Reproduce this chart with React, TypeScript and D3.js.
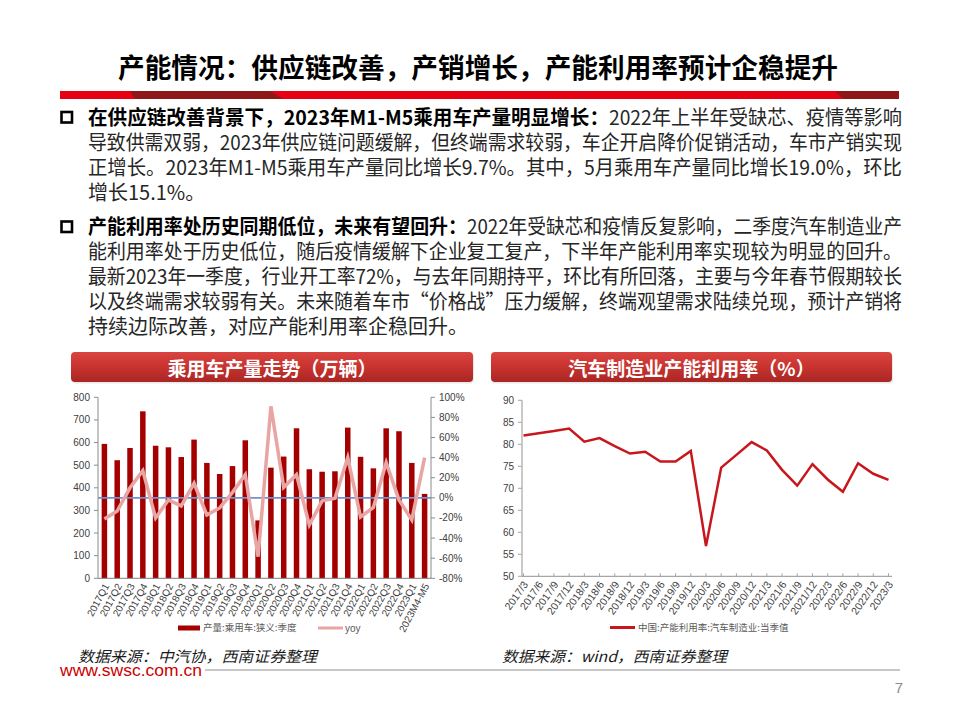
import React from 'react';
import * as d3 from 'd3';

const quarters = ['2017Q1','2017Q2','2017Q3','2017Q4','2018Q1','2018Q2','2018Q3','2018Q4','2019Q1','2019Q2','2019Q3','2019Q4','2020Q1','2020Q2','2020Q3','2020Q4','2021Q1','2021Q2','2021Q3','2021Q4','2022Q1','2022Q2','2022Q3','2022Q4','2023Q1','2023M4-M5'];
const production = [594,522,576,738,586,579,536,613,510,461,496,610,256,489,538,663,482,471,473,666,537,486,663,650,510,373];
const yoy = [-21,-13,10,27,-20,-2,-8,14.5,-17,-10,5.5,23,-58.5,91,10.5,23,-27,-3,-0.5,40,-19,-9.5,35,-2,-22,40];
const productionTicks = [0,100,200,300,400,500,600,700,800];
const yoyTicks = [-80,-60,-40,-20,0,20,40,60,80,100];

const periods = ['2017/3','2017/6','2017/9','2017/12','2018/3','2018/6','2018/9','2018/12','2019/3','2019/6','2019/9','2019/12','2020/3','2020/6','2020/9','2020/12','2021/3','2021/6','2021/9','2021/12','2022/3','2022/6','2022/9','2022/12','2023/3'];
const utilization = [82.0,82.5,83.0,83.6,80.6,81.4,79.6,77.9,78.3,76.1,76.1,78.5,56.9,74.7,77.6,80.5,78.6,74.2,70.6,75.5,72.0,69.2,75.7,73.3,71.9];
const utilizationTicks = [50,55,60,65,70,75,80,85,90];

const titleText = '产能情况：供应链改善，产销增长，产能利用率预计企稳提升';
const para1 = [
  { bold: '在供应链改善背景下，2023年M1-M5乘用车产量明显增长：', reg: '2022年上半年受缺芯、疫情等影响' },
  { bold: '', reg: '导致供需双弱，2023年供应链问题缓解，但终端需求较弱，车企开启降价促销活动，车市产销实现' },
  { bold: '', reg: '正增长。2023年M1-M5乘用车产量同比增长9.7%。其中，5月乘用车产量同比增长19.0%，环比' },
  { bold: '', reg: '增长15.1%。' },
];
const para2 = [
  { bold: '产能利用率处历史同期低位，未来有望回升：', reg: '2022年受缺芯和疫情反复影响，二季度汽车制造业产' },
  { bold: '', reg: '能利用率处于历史低位，随后疫情缓解下企业复工复产，下半年产能利用率实现较为明显的回升。' },
  { bold: '', reg: '最新2023年一季度，行业开工率72%，与去年同期持平，环比有所回落，主要与今年春节假期较长' },
  { bold: '', reg: '以及终端需求较弱有关。未来随着车市“价格战”压力缓解，终端观望需求陆续兑现，预计产销将' },
  { bold: '', reg: '持续边际改善，对应产能利用率企稳回升。' },
];
const leftHeader = '乘用车产量走势（万辆）';
const rightHeader = '汽车制造业产能利用率（%）';
const leftLegend = ['产量:乘用车:狭义:季度', 'yoy'];
const rightLegend = '中国:产能利用率:汽车制造业:当季值';
const leftSource = '数据来源：中汽协，西南证券整理';
const rightSource = '数据来源：wind，西南证券整理';

const CJK = "'Noto Sans CJK SC', 'Noto Sans', sans-serif";
const LAT = "'Liberation Sans', Arial, sans-serif";

function Para({ lines, y0, boldEnd }: { lines: { bold: string; reg: string }[]; y0: number; boldEnd: number }) {
  const x0 = 88, x1 = 902, lh = 25;
  return (
    <g>
      <rect x={61.5} y={y0 - 12.5} width={10.5} height={10.5} fill="none" stroke="#000" strokeWidth={2.6} />
      {lines.map((l, i) => {
        const y = y0 + i * lh;
        const full = i < lines.length - 1;
        const regStart = l.bold ? boldEnd : x0;
        return (
          <g key={i}>
            {l.bold && (
              <text x={x0} y={y} fontFamily={CJK} fontSize={20} fontWeight={700} fill="#000"
                textLength={boldEnd - x0} lengthAdjust="spacingAndGlyphs">{l.bold}</text>
            )}
            <text x={regStart} y={y} fontFamily={CJK} fontSize={20} fill="#262626"
              {...(full ? { textLength: x1 - regStart, lengthAdjust: 'spacingAndGlyphs' } : {})}>{l.reg}</text>
          </g>
        );
      })}
    </g>
  );
}

function Header({ x, w, text }: { x: number; w: number; text: string }) {
  return (
    <g>
      <rect x={x + 1} y={353.5} width={w} height={30} rx={4} fill="#d8d8d8" opacity={0.6} />
      <rect x={x} y={352} width={w} height={30} rx={4} fill="url(#hdrGrad)" />
      <text x={x + w / 2} y={376} textAnchor="middle" fontFamily={CJK} fontSize={19} fontWeight={700} fill="#fff">{text}</text>
    </g>
  );
}

export default function App() {
  // left chart
  const lx0 = 98, lx1 = 431, lyB = 578.3, lyT = 397.3;
  const xb = d3.scaleBand<string>().domain(quarters).range([lx0, lx1]).paddingInner(0.57).paddingOuter(0.285);
  const bw = xb.bandwidth();
  const yL = d3.scaleLinear().domain([0, 800]).range([lyB, lyT]);
  const yR = d3.scaleLinear().domain([-80, 100]).range([lyB, lyT]);
  const cx = (q: string) => (xb(q) as number) + bw / 2;
  const yoyPath = d3.line<number>().x((_, i) => cx(quarters[i])).y(d => yR(d))(yoy) || '';

  // right chart
  const rx0 = 522, rx1 = 892, ryB = 576.3, ryT = 400.3;
  const xp = d3.scalePoint<string>().domain(periods).range([523.5, 888.5]);
  const yU = d3.scaleLinear().domain([50, 90]).range([ryB, ryT]);
  const utilPath = d3.line<number>().x((_, i) => xp(periods[i]) as number).y(d => yU(d))(utilization) || '';

  return (
    <svg width={960} height={720} viewBox="0 0 960 720" style={{ position: 'absolute', left: 0, top: 0, background: '#fff' }}>
      <defs>
        <linearGradient id="hdrGrad" x1="0" y1="0" x2="0" y2="1">
          <stop offset="0" stopColor="#da4440" />
          <stop offset="0.5" stopColor="#c8332f" />
          <stop offset="1" stopColor="#a82624" />
        </linearGradient>
      </defs>
      <rect x={0} y={0} width={960} height={720} fill="#fff" />

      {/* title */}
      <text x={118} y={77.5} fontFamily={CJK} fontSize={27} fontWeight={700} fill="#000" textLength={720} lengthAdjust="spacingAndGlyphs">{titleText}</text>
      <rect x={60} y={91} width={839} height={8} fill="#e60012" />
      <polygon points="130,91 270,91 283,99 135,99" fill="#8e1818" />
      <polygon points="835,91 899,91 899,99 843,99" fill="#8e1818" />

      <Para lines={para1} y0={124.5} boldEnd={609} />
      <Para lines={para2} y0={234} boldEnd={467} />

      <Header x={71} w={402} text={leftHeader} />
      <Header x={491} w={401} text={rightHeader} />

      {/* left chart */}
      <g>
        {production.map((v, i) => (
          <rect key={i} x={xb(quarters[i])} y={yL(v)} width={bw} height={lyB - yL(v)} fill="#a50000" />
        ))}
        <line x1={lx0} x2={lx1} y1={yR(0)} y2={yR(0)} stroke="#6f92cc" strokeWidth={1.6} />
        <path d={yoyPath} fill="none" stroke="#e9a4a4" strokeWidth={3.5} strokeLinejoin="miter" />
        <line x1={lx0} x2={lx0} y1={lyT} y2={lyB} stroke="#8c8c8c" strokeWidth={1} />
        <line x1={lx1} x2={lx1} y1={lyT} y2={lyB} stroke="#8c8c8c" strokeWidth={1} />
        <line x1={lx0} x2={lx1} y1={lyB} y2={lyB} stroke="#7f7f7f" strokeWidth={1} />
        {productionTicks.map(t => (
          <g key={t}>
            <line x1={lx0 - 4} x2={lx0} y1={yL(t)} y2={yL(t)} stroke="#8c8c8c" />
            <text x={lx0 - 8} y={yL(t)} dy="0.35em" textAnchor="end" fontFamily={LAT} fontSize={10} fill="#404040">{t}</text>
          </g>
        ))}
        {yoyTicks.map(t => (
          <g key={t}>
            <line x1={lx1} x2={lx1 + 4} y1={yR(t)} y2={yR(t)} stroke="#8c8c8c" />
            <text x={lx1 + 8} y={yR(t)} dy="0.35em" textAnchor="start" fontFamily={LAT} fontSize={10} fill="#404040">{t}%</text>
          </g>
        ))}
        {quarters.map(q => (
          <text key={q} transform={`translate(${cx(q) + 2},${lyB + 6}) rotate(-62)`} dy="0.35em" textAnchor="end" fontFamily={LAT} fontSize={10} fill="#404040">{q}</text>
        ))}
        <rect x={178} y={625.5} width={22} height={5} fill="#a50000" />
        <text x={203} y={631} fontFamily={CJK} fontSize={9.5} fill="#595959">{leftLegend[0]}</text>
        <line x1={318} x2={343} y1={628} y2={628} stroke="#e9a4a4" strokeWidth={3} />
        <text x={345} y={631.5} fontFamily={LAT} fontSize={10} fill="#595959">{leftLegend[1]}</text>
      </g>

      {/* right chart */}
      <g>
        <line x1={rx0} x2={rx0} y1={ryT} y2={ryB} stroke="#a6a6a6" strokeWidth={1.2} />
        <line x1={rx0} x2={rx1} y1={ryB} y2={ryB} stroke="#a6a6a6" strokeWidth={1.2} />
        {utilizationTicks.map(t => (
          <g key={t}>
            <line x1={rx0 - 4} x2={rx0} y1={yU(t)} y2={yU(t)} stroke="#a6a6a6" />
            <text x={rx0 - 8} y={yU(t)} dy="0.35em" textAnchor="end" fontFamily={LAT} fontSize={10} fill="#404040">{t}</text>
          </g>
        ))}
        {periods.map(p => (
          <g key={p}>
            <line x1={xp(p)} x2={xp(p)} y1={ryB - 3} y2={ryB} stroke="#a6a6a6" />
            <text transform={`translate(${(xp(p) as number) + 2},${ryB + 6}) rotate(-55)`} dy="0.35em" textAnchor="end" fontFamily={LAT} fontSize={10.5} fill="#404040">{p}</text>
          </g>
        ))}
        <path d={utilPath} fill="none" stroke="#c8161d" strokeWidth={2.5} strokeLinejoin="miter" />
        <line x1={610} x2={635} y1={627.5} y2={627.5} stroke="#c8161d" strokeWidth={3} />
        <text x={638} y={631} fontFamily={CJK} fontSize={9.5} fill="#595959">{rightLegend}</text>
      </g>

      {/* sources */}
      <text x={78} y={662} fontFamily={CJK} fontStyle="italic" fontSize={15} fill="#1a1a1a" textLength={239} lengthAdjust="spacingAndGlyphs">{leftSource}</text>
      <text x={502} y={662} fontFamily={CJK} fontStyle="italic" fontSize={15} fill="#1a1a1a" textLength={225} lengthAdjust="spacingAndGlyphs">{rightSource}</text>

      {/* footer */}
      <text x={60} y={675.5} fontFamily={LAT} fontSize={17} fill="#cc0000" textLength={142} lengthAdjust="spacingAndGlyphs">www.swsc.com.cn</text>
      <line x1={205} x2={900} y1={670} y2={670} stroke="#c8c8c8" strokeWidth={2} />
      <text x={899} y={693} textAnchor="middle" fontFamily={LAT} fontSize={15} fill="#8c8c8c">7</text>
    </svg>
  );
}
